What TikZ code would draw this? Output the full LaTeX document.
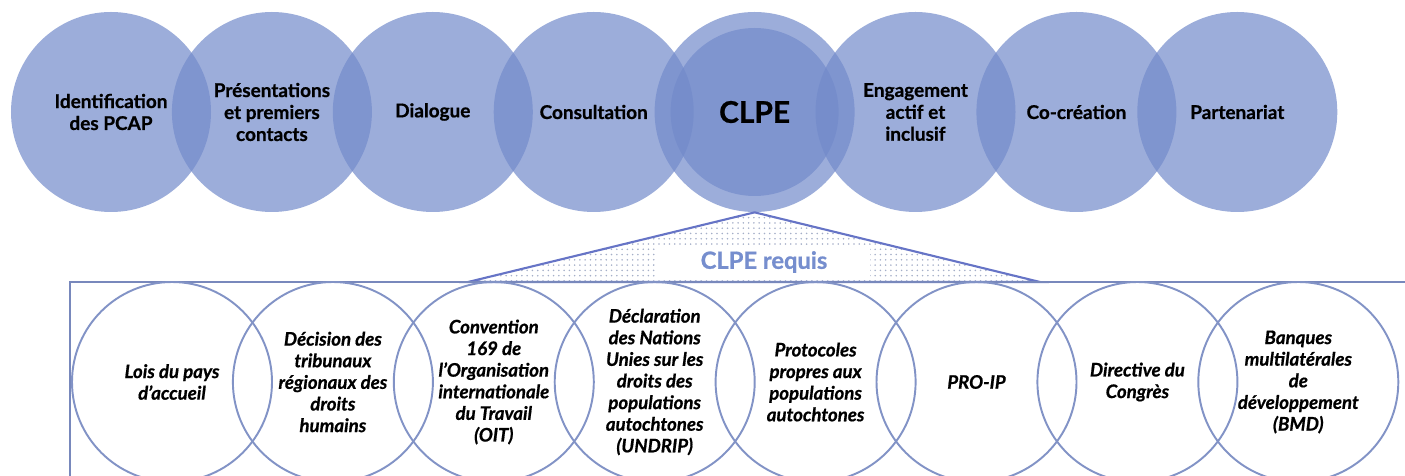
\documentclass[tikz,border=0pt]{standalone}
\usepackage{fontspec}
\setmainfont{Lato}[BoldFeatures={FakeBold=0.8},BoldItalicFeatures={FakeBold=0.8}]
\usetikzlibrary{patterns}

\definecolor{phasefill}{RGB}{114,138,202}
\definecolor{ringline}{RGB}{130,147,198}
\definecolor{framecol}{RGB}{120,136,188}
\definecolor{requiscol}{RGB}{118,142,206}
\definecolor{dotcol}{RGB}{165,175,200}
\newcommand{\gap}{160.9}

\tikzset{
  phase/.style={circle, fill=phasefill, fill opacity=.7, text opacity=1,
    minimum size=4cm, inner sep=0pt, align=center,
    font=\fontsize{10.8}{12.5}\selectfont\bfseries},
  ring/.style={circle, draw=ringline, line width=1.1pt, minimum size=4cm,
    inner sep=0pt, align=center,
    font=\fontsize{10.6}{12.3}\selectfont\bfseries\itshape},
  frame/.style={draw=framecol, line width=1.3pt},
  funnel/.style={draw=framecol!85!blue, line width=1.2pt, pattern=dots,
    pattern color=dotcol},
}

\begin{document}
\begin{tikzpicture}[x=0.2mm, y=-0.2mm]
        \useasboundingbox (0,0) rectangle (1405,476);
        \clip (0,0) rectangle (1405,476);

        % the eight steps
        \foreach \lbl [count=\i from 0] in {{Identification\\des PCAP},
                {Présentations\\et premiers\\contacts}, {Dialogue},
                {Consultation}, {},
                {Engagement\\actif et\\inclusif}, {Co-création},
                {Partenariat}}
                 {
                   \node (p\i) at (111+\gap*\i,112) [phase] {\lbl};
                 }
        \node (core) at (p4) [circle, fill=phasefill, fill opacity=.7,
                minimum size=3.36cm, inner sep=0pt] {};
        \node at (p4) [font=\fontsize{17}{19}\selectfont\bfseries] {CLPE};

        % funnel down to the box
        \coordinate (tl) at (468,282);
        \coordinate (tr) at (1040,282);
        \draw[funnel] (p4.south) -- (tr) -- (tl) -- cycle;
        \draw[frame] (70,282) rectangle (1430,500);
        \node (req) at (764,262) [fill=white, minimum width=4.24cm,
                minimum height=0.62cm, text=requiscol,
                font=\fontsize{13.5}{15}\selectfont\bfseries] {CLPE requis};

        % the sources
        \foreach \lbl [count=\i from 0] in {{Lois du pays\\d’accueil},
                {Décision des\\tribunaux\\régionaux des\\droits\\humains},
                {Convention\\169 de\\l’Organisation\\internationale\\du Travail\\(OIT)},
                {Déclaration\\des Nations\\Unies sur les\\droits des\\populations\\autochtones\\(UNDRIP)},
                {Protocoles\\propres aux\\populations\\autochtones},
                {PRO-IP}, {Directive du\\Congrès},
                {Banques\\multilatérales\\de\\développement\\(BMD)}}
                 {
                   \node (s\i) at (172+\gap*\i,382) [ring] {\lbl};
                 }
      \end{tikzpicture}
\end{document}
